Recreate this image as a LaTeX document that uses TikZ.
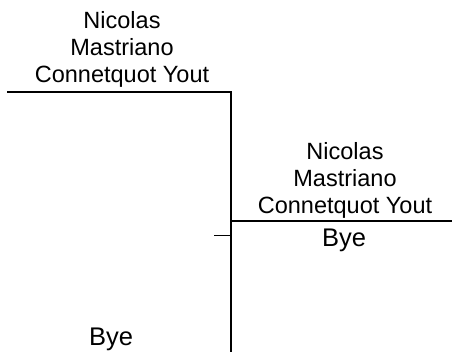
\documentclass[tikz,border=0pt]{standalone}
\usepackage{fontspec}
\setmainfont{Liberation Sans}
\tikzset{
  bline/.style={line width=1.6pt, line cap=rect},
  namebox/.style={align=center, font=\fontsize{23.5}{27}\selectfont, inner sep=0pt},
  byetext/.style={font=\fontsize{25.5}{29}\selectfont, inner sep=0pt, anchor=base}
}
\begin{document}
\begin{tikzpicture}[x=1pt,y=-1pt]
\useasboundingbox (0,0) rectangle (452,351);
\coordinate (a1) at (8,92);
\coordinate (a2) at (231,92);
\coordinate (b2) at (231,351);
\coordinate (c1) at (231,221);
\coordinate (c2) at (452,221);
\coordinate (t1) at (214,235);
\node[namebox] (top) at (122,49) {Nicolas\\Mastriano\\Connetquot Yout};
\node[namebox] (right) at (345,180) {Nicolas\\Mastriano\\Connetquot Yout};
\node[byetext] (bye1) at (344,246) {Bye};
\node[byetext] (bye2) at (111,345) {Bye};
\draw[bline] (a1) -- (a2) -- (b2);
\draw[bline] (c1) -- (c2);
\draw[line width=1pt] (t1) -- (c1 |- t1);
\end{tikzpicture}
\end{document}
